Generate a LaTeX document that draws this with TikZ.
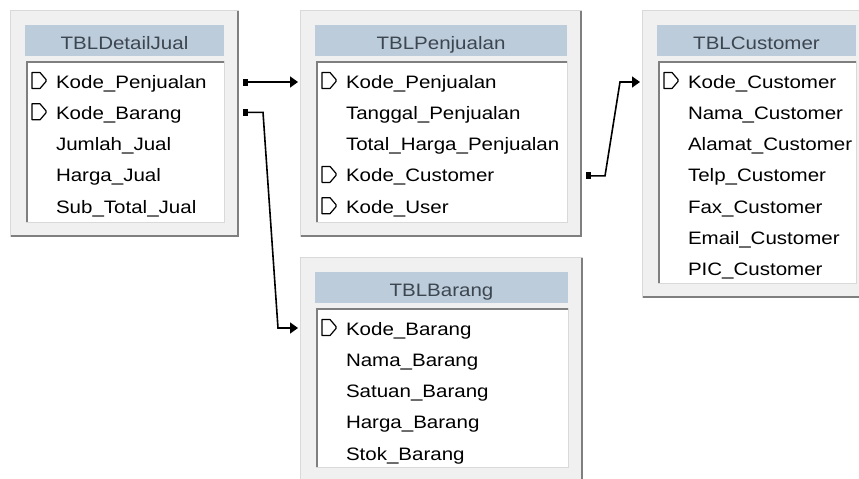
\documentclass[tikz,border=0pt]{standalone}
\usepackage{fontspec}
\setmainfont{Liberation Sans}[FakeStretch=1.14]
\usetikzlibrary{calc,arrows.meta}

\definecolor{boxbg}{HTML}{F0F0F0}
\definecolor{hdr}{HTML}{BDCCDA}
\definecolor{hdrtext}{HTML}{3C4650}
\definecolor{darkedge}{HTML}{7F7F7F}
\definecolor{lightedge}{HTML}{D9D9D9}

\tikzset{
  tblbox/.style={fill=boxbg, anchor=north west, inner sep=0pt, outer sep=0pt},
  hdrbox/.style={fill=hdr, anchor=north west, inner sep=0pt, outer sep=0pt,
    minimum height=31, text height=17, text depth=0pt, text=hdrtext,
    font=\fontsize{18}{20}\selectfont},
  listbox/.style={fill=white, draw=lightedge, anchor=north west, inner sep=0pt, outer sep=0pt},
  listdark/.style={draw=darkedge, line width=2.4pt},
  outerlight/.style={draw=lightedge, line width=1pt},
  outerdark/.style={draw=darkedge, line width=2.2pt},
  rowtext/.style={anchor=base west, inner sep=0pt, outer sep=0pt,
    font=\fontsize{18}{20}\selectfont},
  keyicon/.style={draw=black, line width=1.2pt, line join=round},
  conn/.style={draw=black, line width=1.6pt,
    {Rectangle[length=5pt,width=7pt]}-{Triangle[length=8pt,width=11pt]}}
}

\newcommand\dbtable[6]{%
  \node[tblbox, minimum width={#4-#2}, minimum height={#5-#3}] (#1) at (#2,#3) {};
  \draw[outerlight] (#1.south west) -- (#1.north west) -- (#1.north east);
  \draw[outerdark] ($(#1.south west)+(1,-1)$) -- ($(#1.south east)+(-1,-1)$) -- ($(#1.north east)+(-1,1)$);
  \node[hdrbox, minimum width={#4-#2-30}] (#1-h) at (#2+15,#3+15) {#6};
  \node[listbox, minimum width={#4-#2-31}, minimum height={#5-#3-66}] (#1-l) at (#2+16,#3+51) {};
  \draw[listdark] ($(#1-l.south west)+(1,0)$) -- ($(#1-l.north west)+(1,1)$) -- ($(#1-l.north east)+(0,1)$);
}

\newcommand\dbrow[4]{%
  \node[rowtext] (#1-r#2) at ($(#1.north west)+(46,{78+31.3*(#2-1)})$) {#3};
  \ifnum#4=1
    \begin{scope}[shift={($(#1-r#2.base west)+(-24,-7.5)$)}]
      \draw[keyicon] (0,-8) -- (8,-8) -- (14,-1) -- (14,1) -- (8,8) -- (0,8) -- cycle;
    \end{scope}
  \fi
}

\begin{document}
\begin{tikzpicture}[x=1pt,y=-1pt]
  \clip (0,0) rectangle (859,479);
  \fill[white] (0,0) rectangle (859,479);

  % TBLDetailJual
  \dbtable{dj}{10}{10}{239}{237}{TBLDetailJual}
  \dbrow{dj}{1}{Kode\_Penjualan}{1}
  \dbrow{dj}{2}{Kode\_Barang}{1}
  \dbrow{dj}{3}{Jumlah\_Jual}{0}
  \dbrow{dj}{4}{Harga\_Jual}{0}
  \dbrow{dj}{5}{Sub\_Total\_Jual}{0}

  % TBLPenjualan
  \dbtable{pj}{300}{10}{582}{237}{TBLPenjualan}
  \dbrow{pj}{1}{Kode\_Penjualan}{1}
  \dbrow{pj}{2}{Tanggal\_Penjualan}{0}
  \dbrow{pj}{3}{Total\_Harga\_Penjualan}{0}
  \dbrow{pj}{4}{Kode\_Customer}{1}
  \dbrow{pj}{5}{Kode\_User}{1}

  % TBLCustomer
  \dbtable{cu}{642}{10}{871}{298}{TBLCustomer}
  \dbrow{cu}{1}{Kode\_Customer}{1}
  \dbrow{cu}{2}{Nama\_Customer}{0}
  \dbrow{cu}{3}{Alamat\_Customer}{0}
  \dbrow{cu}{4}{Telp\_Customer}{0}
  \dbrow{cu}{5}{Fax\_Customer}{0}
  \dbrow{cu}{6}{Email\_Customer}{0}
  \dbrow{cu}{7}{PIC\_Customer}{0}

  % TBLBarang
  \dbtable{br}{300}{257}{583}{482}{TBLBarang}
  \dbrow{br}{1}{Kode\_Barang}{1}
  \dbrow{br}{2}{Nama\_Barang}{0}
  \dbrow{br}{3}{Satuan\_Barang}{0}
  \dbrow{br}{4}{Harga\_Barang}{0}
  \dbrow{br}{5}{Stok\_Barang}{0}

  % Connectors
  \draw[conn] ($(dj.east |- dj-r1.base)+(4,-6)$) -- ($(pj.west |- pj-r1.base)+(-2,-6)$);
  \draw[conn] ($(dj.east |- dj-r2.base)+(4,-7)$) -- ++(20,0)
     -- ($(br.west |- br-r1.base)+(-22,-7)$) -- ($(br.west |- br-r1.base)+(-2,-7)$);
  \draw[conn] ($(pj.east |- pj-r4.base)+(4,-6)$) -- ++(19,0)
     -- ($(cu.west |- cu-r1.base)+(-22,-6)$) -- ($(cu.west |- cu-r1.base)+(-2,-6)$);
\end{tikzpicture}
\end{document}
